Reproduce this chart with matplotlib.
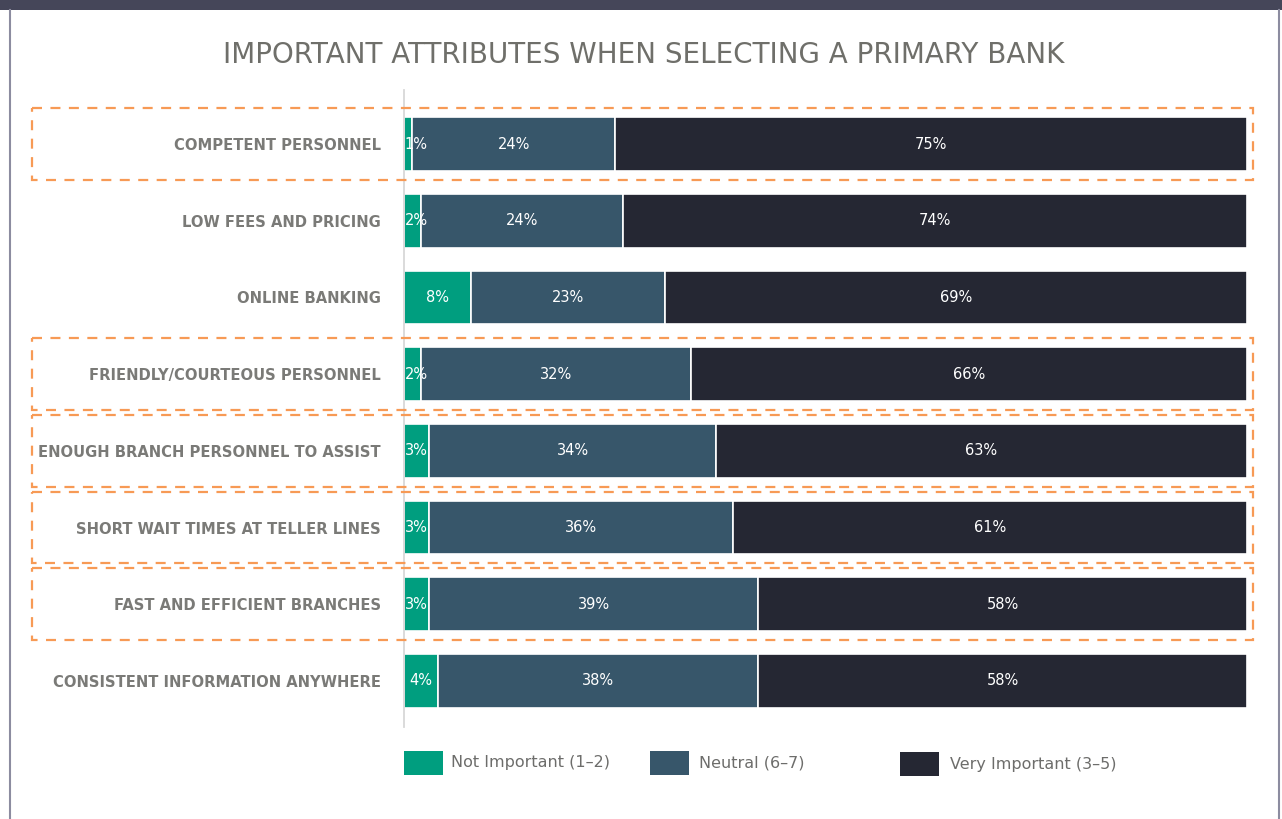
import matplotlib
matplotlib.use("Agg")
import matplotlib.pyplot as plt
from matplotlib.patches import Rectangle

categories = [
    "COMPETENT PERSONNEL",
    "LOW FEES AND PRICING",
    "ONLINE BANKING",
    "FRIENDLY/COURTEOUS PERSONNEL",
    "ENOUGH BRANCH PERSONNEL TO ASSIST",
    "SHORT WAIT TIMES AT TELLER LINES",
    "FAST AND EFFICIENT BRANCHES",
    "CONSISTENT INFORMATION ANYWHERE",
]
not_important = [1, 2, 8, 2, 3, 3, 3, 4]
neutral = [24, 24, 23, 32, 34, 36, 39, 38]
very_important = [75, 74, 69, 66, 63, 61, 58, 58]
series_labels = ["Not Important (1–2)", "Neutral (6–7)", "Very Important (3–5)"]
highlighted = [0, 3, 4, 5, 6]

colors = ["#009E7F", "#37566A", "#252733"]
title = "IMPORTANT ATTRIBUTES WHEN SELECTING A PRIMARY BANK"

W, H = 1282, 819
fig = plt.figure(figsize=(W / 100, H / 100), dpi=100)
fig.patch.set_facecolor("white")

# page frame
fig.add_artist(Rectangle((0, 1 - 10 / H), 1, 10 / H, transform=fig.transFigure,
                         facecolor="#454659", edgecolor="none"))
fig.add_artist(plt.Line2D([9.5 / W, 9.5 / W], [0, 1 - 10 / H], transform=fig.transFigure,
                          color="#8c8ca0", lw=1.5))
fig.add_artist(plt.Line2D([1279 / W, 1279 / W], [0, 1 - 10 / H], transform=fig.transFigure,
                          color="#8c8ca0", lw=1.5))

ax = fig.add_axes([404 / W, (H - 727) / H, 843 / W, (727 - 90) / H])
ax.set_xlim(0, 100)
ax.set_ylim(7.60, -0.704)

ypos = list(range(len(categories)))
bar_h = 0.70
lefts = [0] * len(categories)
for vals, col in zip([not_important, neutral, very_important], colors):
    ax.barh(ypos, vals, left=lefts, height=bar_h, color=col, edgecolor="white", linewidth=1.2)
    for y, v, l in zip(ypos, vals, lefts):
        if v < 4:
            ax.text(l + 0.1, y, f"{v}%", ha="left", va="center", color="white",
                    fontsize=10.5, zorder=6)
        else:
            ax.text(l + v / 2, y, f"{v}%", ha="center", va="center", color="white",
                    fontsize=10.5, zorder=6)
    lefts = [a + b for a, b in zip(lefts, vals)]

for spine in ["top", "right", "bottom"]:
    ax.spines[spine].set_visible(False)
ax.spines["left"].set_color("#d8d8d8")
ax.spines["left"].set_linewidth(1.3)
ax.set_xticks([])
ax.set_yticks(ypos)
ax.set_yticklabels(categories, color="#7a7a77", fontsize=10.6, fontweight="bold")
ax.tick_params(axis="y", length=0, pad=16.5)

# dashed highlight boxes
px = 100 / 843.0
x0 = (32 - 404) * px
x1 = (1253 - 404) * px
half = 0.467
for i in highlighted:
    ax.add_patch(Rectangle((x0, i - half), x1 - x0, 2 * half, fill=False,
                           edgecolor="#F79A55", lw=1.6, linestyle=(0, (4.5, 3.8)),
                           clip_on=False, zorder=5))

fig.text(644 / W, 1 - 55 / H, title, ha="center", va="center", color="#6f6f6a",
         fontsize=20)

# legend
leg_x = [404, 650, 900]
leg_text_x = [451, 699, 950]
leg_y = [763, 763, 764]
for lx, tx, ly, lab, col in zip(leg_x, leg_text_x, leg_y, series_labels, colors):
    fig.add_artist(Rectangle((lx / W, 1 - (ly + 12) / H), 39 / W, 24 / H,
                             transform=fig.transFigure, facecolor=col, edgecolor="none"))
    fig.text(tx / W, 1 - ly / H, lab, ha="left", va="center", color="#6d6d6b",
             fontsize=11.5)

fig.savefig("out.png", dpi=100)
